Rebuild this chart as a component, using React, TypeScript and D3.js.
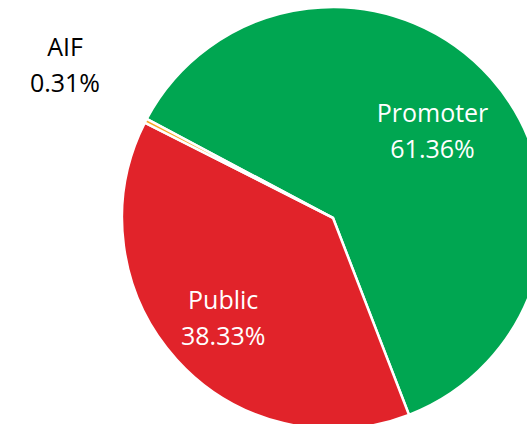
import React from "react";
import * as d3 from "d3";

const categories = ["Promoter", "Public", "AIF"];
const values = [61.36, 38.33, 0.31];
const labels = ["61.36%", "38.33%", "0.31%"];
const colors = ["#00A651", "#E1232A", "#F7A823"];

const W = 527;
const H = 424;
const cx = 333;
const cy = 218;
const R = 211;
const startDeg = -62;

// label placement (radius from centre, angle tweak in degrees)
const labelRadius: Record<string, number> = { Promoter: 133, Public: 148, AIF: 309 };
const labelAngleShift: Record<string, number> = { Promoter: 0, Public: 0, AIF: 2.4 };

export default function App() {
  const data = categories.map((c, i) => ({ name: c, value: values[i], label: labels[i], color: colors[i] }));
  const start = (startDeg * Math.PI) / 180;
  const pie = d3
    .pie<any>()
    .sort(null)
    .value((d) => d.value)
    .startAngle(start)
    .endAngle(start + 2 * Math.PI);
  const arcs = pie(data);
  const arc = d3.arc<any>().innerRadius(0).outerRadius(R);

  return (
    <svg
      width={W}
      height={H}
      style={{ position: "absolute", left: 0, top: 0, overflow: "hidden", background: "#fff" }}
      fontFamily="'Open Sans', sans-serif"
    >
      <g transform={`translate(${cx},${cy})`}>
        {arcs.map((a, i) => (
          <path key={i} d={arc(a) as string} fill={a.data.color} stroke="#fff" strokeWidth={2.5} strokeLinejoin="miter" />
        ))}
        {arcs.map((a, i) => {
          const mid = (a.startAngle + a.endAngle) / 2 + (labelAngleShift[a.data.name] * Math.PI) / 180;
          const r = labelRadius[a.data.name];
          const x = r * Math.sin(mid);
          const y = -r * Math.cos(mid);
          const fill = a.data.name === "AIF" ? "#000" : "#fff";
          return (
            <text key={"t" + i} x={x} textAnchor="middle" fontSize={25} fill={fill}>
              <tspan x={x} y={y - 8}>{a.data.name}</tspan>
              <tspan x={x} y={y + 28}>{a.data.label}</tspan>
            </text>
          );
        })}
      </g>
    </svg>
  );
}
